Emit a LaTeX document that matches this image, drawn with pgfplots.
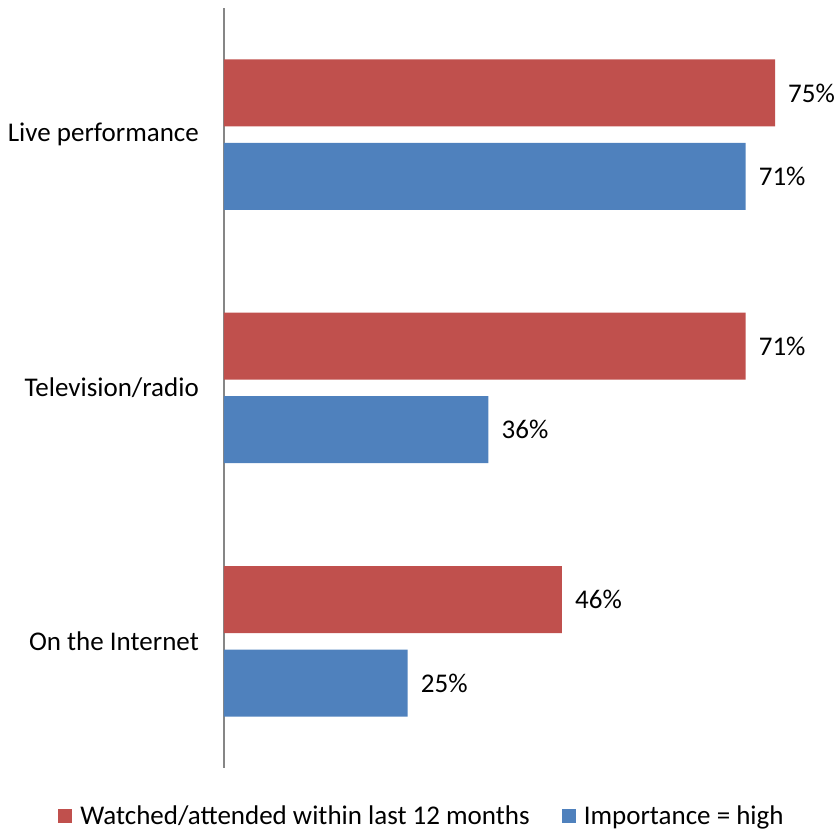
\documentclass[border=0pt]{standalone}
\usepackage{pgfplots}
\pgfplotsset{compat=1.18}
\usepackage{fontspec}
\setmainfont{Carlito}
\definecolor{cred}{HTML}{C0504D}
\definecolor{cblue}{HTML}{4F81BD}
\definecolor{caxis}{HTML}{868686}
\newcommand{\lblfont}{\fontsize{27}{32}\selectfont}
\begin{document}
\begin{tikzpicture}
\useasboundingbox (0,0) rectangle (836pt,833pt);
\begin{axis}[
  at={(224pt,65pt)}, anchor=south west,
  scale only axis, width=612pt, height=760pt,
  xbar, xmin=0, xmax=83.3, ymin=-0.5, ymax=2.5,
  axis y line*=left, axis x line=none,
  ytick={0,1,2},
  yticklabels={On the Internet, Television/radio, Live performance},
  major tick length=0pt,
  y axis line style={draw=caxis, line width=1.6pt, -},
  yticklabel style={font=\lblfont, inner sep=0pt, xshift=-25pt},
  bar width=67pt,
  nodes near coords={\pgfmathprintnumber\pgfplotspointmeta\%},
  nodes near coords style={font=\lblfont, anchor=west, inner sep=0pt, xshift=13pt},
  /pgf/number format/assume math mode=true,
  legend style={at={(0.3235,-0.063)}, anchor=center, draw=none, legend columns=2,
    font=\lblfont, /tikz/every even column/.append style={column sep=30pt}},
  legend image code/.code={\fill[#1] (0pt,-7pt) rectangle (14pt,7pt); \path (20pt,0pt);},
  clip=false,
]
\addplot[fill=cred, draw=none, bar shift=41.75pt] coordinates {(46,0) (71,1) (75,2)};
\addplot[fill=cblue, draw=none, bar shift=-41.75pt] coordinates {(25,0) (36,1) (71,2)};
\legend{Watched/attended within last 12 months, Importance = high}
\end{axis}
\end{tikzpicture}
\end{document}
